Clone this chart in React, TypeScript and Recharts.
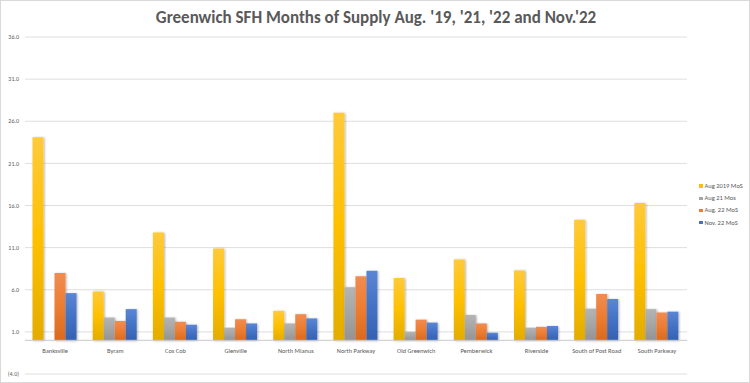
/**
 * Grouped bar chart: Greenwich SFH months of supply by neighborhood.
 */

import { BarChart, Bar, XAxis, YAxis, CartesianGrid, ReferenceLine, Legend } from 'recharts';

const neighborhoods = [
  'Banksville',
  'Byram',
  'Cos Cob',
  'Glenville',
  'North Mianus',
  'North Parkway',
  'Old Greenwich',
  'Pemberwick',
  'Riverside',
  'South of Post Road',
  'South Parkway',
];

const aug2019 = [24.1, 5.8, 12.8, 10.9, 3.5, 27.0, 7.4, 9.6, 8.3, 14.3, 16.3];
const aug21 = [null, 2.7, 2.7, 1.5, 2.0, 6.3, 1.0, 3.0, 1.5, 3.75, 3.7];
const aug22 = [8.0, 2.3, 2.2, 2.5, 3.1, 7.6, 2.45, 2.0, 1.6, 5.5, 3.3];
const nov22 = [5.6, 3.7, 1.85, 2.0, 2.6, 8.25, 2.1, 0.9, 1.7, 4.9, 3.4];

const yTicks = [-4, 1, 6, 11, 16, 21, 26, 31, 36];

const SERIES = [
  { key: 'aug2019', name: 'Aug 2019 MoS', color: '#FFC000', top: '#FFCA3A', bottom: '#E3AC00' },
  { key: 'aug21', name: 'Aug 21 Mos', color: '#A5A5A5', top: '#B4B4B4', bottom: '#939393' },
  { key: 'aug22', name: 'Aug. 22 MoS', color: '#ED7D31', top: '#F08C52', bottom: '#D96A1E' },
  { key: 'nov22', name: 'Nov. 22 MoS', color: '#4472C4', top: '#5A86D4', bottom: '#3461B2' },
];

const data = neighborhoods.map((name, i) => ({
  name,
  aug2019: aug2019[i],
  aug21: aug21[i],
  aug22: aug22[i],
  nov22: nov22[i],
}));

const FONT = "Carlito, 'Liberation Sans', Arial, sans-serif";
const TEXT = '#595959';

const formatTick = (v: number) => (v < 0 ? `(${Math.abs(v).toFixed(1)})` : v.toFixed(1));

// category labels sit just under the zero line, not at the bottom of the plot
function CategoryTick(props: any) {
  const { x, y, payload } = props;
  return (
    <text x={x} y={y - 21} textAnchor="middle" fontSize={6.4} fill={TEXT} fontFamily={FONT}>
      {payload.value}
    </text>
  );
}

function LegendBox() {
  return (
    <div style={{ fontFamily: FONT, fontSize: 6.5, color: TEXT }}>
      {SERIES.map((s) => (
        <div key={s.key} style={{ display: 'flex', alignItems: 'center', height: 12.2 }}>
          <span style={{ width: 3.5, height: 3.5, background: s.color, marginRight: 2 }} />
          {s.name}
        </div>
      ))}
    </div>
  );
}

export default function App() {
  return (
    <div
      style={{
        position: 'absolute',
        left: 0,
        top: 0,
        width: 750,
        height: 383,
        background: '#fff',
        boxSizing: 'border-box',
        border: '1px solid #d9d9d9',
      }}
    >
      <div
        style={{
          position: 'absolute',
          top: 6,
          left: 0,
          width: 750,
          textAlign: 'center',
          fontFamily: FONT,
          fontSize: 17,
          fontWeight: 'bold',
          color: TEXT,
        }}
      >
        Greenwich SFH Months of Supply Aug. '19, '21, '22 and Nov.'22
      </div>
      <div style={{ position: 'absolute', left: -1, top: -1 }}>
        <BarChart
          width={750}
          height={383}
          data={data}
          margin={{ top: 37, right: 63, bottom: 8, left: 0 }}
          barCategoryGap="12.5%"
          barGap={0}
        >
          <defs>
            {SERIES.map((s) => (
              <linearGradient key={s.key} id={`grad-${s.key}`} x1="0" y1="0" x2="0" y2="1">
                <stop offset="0%" stopColor={s.top} />
                <stop offset="50%" stopColor={s.color} />
                <stop offset="100%" stopColor={s.bottom} />
              </linearGradient>
            ))}
            <filter id="shadow" x="-20%" y="-5%" width="150%" height="115%">
              <feDropShadow dx="1" dy="0.5" stdDeviation="0.8" floodColor="#000" floodOpacity="0.3" />
            </filter>
          </defs>
          <CartesianGrid vertical={false} stroke="#dedede" />
          <XAxis
            dataKey="name"
            height={1}
            axisLine={false}
            tickLine={false}
            tickSize={0}
            tickMargin={0}
            interval={0}
            tick={<CategoryTick />}
          />
          <YAxis
            domain={[-4, 36]}
            ticks={yTicks}
            width={25}
            axisLine={false}
            tickLine={false}
            tickSize={0}
            tickMargin={6}
            tickFormatter={formatTick}
            tick={{ fontSize: 6, fill: TEXT, fontFamily: FONT }}
          />
          <ReferenceLine y={0} stroke="#c8c8c8" />
          <Legend
            layout="vertical"
            align="center"
            verticalAlign="middle"
            wrapperStyle={{ left: 699, top: 180, width: 50 }}
            content={<LegendBox />}
          />
          {SERIES.map((s) => (
            <Bar
              key={s.key}
              dataKey={s.key}
              name={s.name}
              fill={`url(#grad-${s.key})`}
              filter="url(#shadow)"
              isAnimationActive={false}
            />
          ))}
        </BarChart>
      </div>
    </div>
  );
}
